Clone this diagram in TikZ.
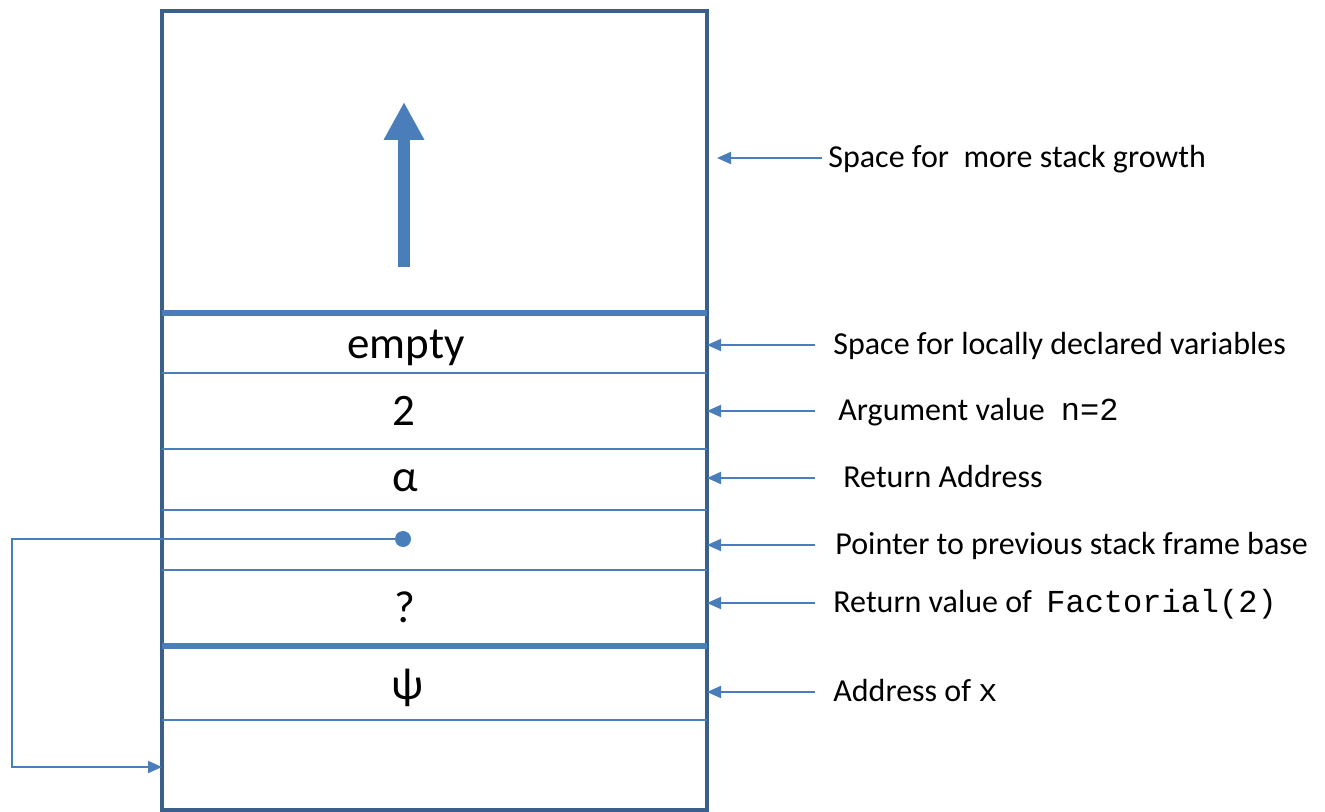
\documentclass[tikz,border=0pt]{standalone}
\usepackage{fontspec}
\setmainfont{Carlito}
\setmonofont{Liberation Mono}
\usetikzlibrary{positioning, arrows.meta}
\definecolor{stackblue}{HTML}{4A7EBB}
\definecolor{stackdark}{HTML}{3A5F8B}

\begin{document}
\begin{tikzpicture}[
  x=0.5pt, y=-0.5pt,
  frame/.style={draw=stackdark, line width=2pt, minimum width=272.5pt,
    minimum height=399.5pt, inner sep=0pt, outer sep=0pt},
  sep/.style={draw=stackblue, line width=1pt},
  bigsep/.style={draw=stackblue, line width=3pt},
  val/.style={anchor=base, inner sep=0pt, font=\fontsize{22.5}{26}\selectfont},
  lbl/.style={anchor=west, inner ysep=0pt, text height=1.15em, text depth=0.2em,
    font=\fontsize{16}{19}\selectfont},
  arr/.style={-{Triangle[length=7pt, width=6pt]}, draw=stackblue, line width=1pt},
  dot/.style={circle, fill=stackblue, minimum size=8pt, inner sep=0pt},
  growarrow/.style={-{Triangle[length=19pt, width=19pt]}, draw=stackblue, line width=6pt}
]
  \useasboundingbox (0,0) rectangle (1325,812);

  % the stack
  \node[frame] (stack) at (434.5,410.5) {};
  \draw[bigsep] (162,313) -- (707,313);
  \draw[sep] (162,373) -- (707,373);
  \draw[sep] (162,449) -- (707,449);
  \draw[sep] (162,510) -- (707,510);
  \draw[sep] (162,570) -- (707,570);
  \draw[bigsep] (162,646) -- (707,646);
  \draw[sep] (162,720) -- (707,720);

  % growth direction
  \coordinate (growtail) at (404,267);
  \coordinate (growhead) at (404,102);
  \draw[growarrow] (growtail) -- (growhead);

  % cell contents
  \node[val] (vloc) at (406,358) {empty};
  \node[val] (varg) at (404,425) {2};
  \node[val] (vret) at (405,491) {α};
  \node[dot] (vfp)  at (403,539) {};
  \node[val] (vres) at (405,622) {?};
  \node[val] (vadr) at (407,699) {ψ};

  % saved frame pointer
  \coordinate (fpbend) at (12,767);
  \draw[arr] (vfp.center) -| (fpbend) -- (fpbend -| stack.west);

  % descriptions
  \node[lbl, inner xsep=3pt] (lgrow) at (822,158) {Space for\ \ more stack growth};
  \node[lbl, inner xsep=9pt] (lloc) at (815,345) {Space for locally declared variables};
  \node[lbl, inner xsep=11.5pt] (larg) at (815,411) {Argument value\hspace{0.5em}\texttt{n=2}};
  \node[lbl, inner xsep=14pt] (lret) at (815,478) {Return Address};
  \node[lbl, inner xsep=10pt] (lfp) at (815,545) {Pointer to previous stack frame base};
  \node[lbl, inner xsep=9pt] (lres) at (815,603) {Return value of\hspace{0.45em}\texttt{Factorial(2)}};
  \node[lbl, inner xsep=9pt] (ladr) at (815,692) {Address of \texttt{x}};

  \draw[arr, shorten >=5pt] (lgrow.west) -- (lgrow.west -| stack.east);
  \draw[arr] (lloc.west) -- (lloc.west -| stack.east);
  \draw[arr] (larg.west) -- (larg.west -| stack.east);
  \draw[arr] (lret.west) -- (lret.west -| stack.east);
  \draw[arr] (lfp.west) -- (lfp.west -| stack.east);
  \draw[arr] (lres.west) -- (lres.west -| stack.east);
  \draw[arr] (ladr.west) -- (ladr.west -| stack.east);
\end{tikzpicture}
\end{document}
